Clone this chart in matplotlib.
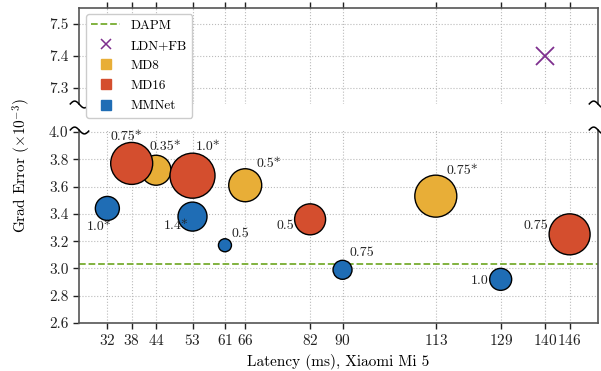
import numpy as np
import matplotlib
matplotlib.use("Agg")
import matplotlib.pyplot as plt
from matplotlib.lines import Line2D
from matplotlib.path import Path

plt.rcParams["font.family"] = "serif"
plt.rcParams["font.serif"] = ["cmr10"]
plt.rcParams["mathtext.fontset"] = "cm"
plt.rcParams["axes.unicode_minus"] = False
plt.rcParams["axes.formatter.use_mathtext"] = True

# data
x_ticks = [32, 38, 44, 53, 61, 66, 82, 90, 113, 129, 140, 146]

md8_lat = [44, 66, 113]
md8_err = [3.72, 3.61, 3.53]
md8_size = [466, 564, 914]
md8_lbl = ["0.35*", "0.5*", "0.75*"]

md16_lat = [38, 53, 82, 146]
md16_err = [3.77, 3.68, 3.36, 3.25]
md16_size = [914, 1050, 498, 871]
md16_lbl = ["0.75*", "1.0*", "0.5", "0.75"]

mm_lat = [32, 53, 61, 90, 129]
mm_err = [3.44, 3.38, 3.17, 2.99, 2.92]
mm_size = [299, 436, 88, 187, 251]
mm_lbl = ["1.0*", "1.4*", "0.5", "0.75", "1.0"]

ldn_lat = [140]
ldn_err = [7.40]
dapm_err = 3.03

c_md8 = "#e8ae37"
c_md16 = "#d44e2e"
c_mm = "#1f6db5"
c_ldn = "#7e2f8e"
c_dapm = "#77ac30"
spine_c = "#555555"

# label offsets in points (dx, dy)
md8_off = [(7, 17), (17, 15), (19, 18)]
md16_off = [(-4, 19), (11, 21), (-18, -5), (-24, 6)]
mm_off = [(-6, -13), (-12, -7), (11, 8), (14, 12), (-15, -1)]

fig = plt.figure(figsize=(6.01, 3.71), dpi=100)
ax_top = fig.add_axes([0.1314, 0.7197, 0.8636, 0.2587])
ax_bot = fig.add_axes([0.1314, 0.1294, 0.8636, 0.5202])

for ax in (ax_top, ax_bot):
    ax.set_xlim(25, 153)
    ax.set_xticks(x_ticks)
    ax.grid(True, linestyle=":", color="#bbbbbb", linewidth=0.8)
    ax.set_axisbelow(True)
    for s in ax.spines.values():
        s.set_color(spine_c)
        s.set_linewidth(1.2)
    ax.tick_params(colors="#222222", labelsize=11, length=4, width=1, direction="out")

ax_top.set_ylim(7.25, 7.55)
ax_top.set_yticks([7.3, 7.4, 7.5])
ax_top.spines["bottom"].set_visible(False)
ax_top.xaxis.tick_top()
ax_top.tick_params(axis="x", labeltop=False)

ax_bot.set_ylim(2.6, 4.015)
ax_bot.set_yticks([2.6, 2.8, 3.0, 3.2, 3.4, 3.6, 3.8, 4.0])
ax_bot.spines["top"].set_visible(False)
ax_bot.yaxis.set_major_formatter(matplotlib.ticker.FormatStrFormatter("%.1f"))
ax_top.yaxis.set_major_formatter(matplotlib.ticker.FormatStrFormatter("%.1f"))

ax_bot.axhline(dapm_err, color=c_dapm, linestyle="--", linewidth=1.3, zorder=2)
ax_top.plot(ldn_lat, ldn_err, "x", color=c_ldn, markersize=13, mew=1.3)

ax_bot.scatter(md8_lat, md8_err, s=md8_size, color=c_md8, edgecolor="black", linewidth=1, zorder=3)
ax_bot.scatter(md16_lat, md16_err, s=md16_size, color=c_md16, edgecolor="black", linewidth=1, zorder=4)
ax_bot.scatter(mm_lat, mm_err, s=mm_size, color=c_mm, edgecolor="black", linewidth=1, zorder=5)

for lat, err, lbl, off in zip(md8_lat + md16_lat + mm_lat, md8_err + md16_err + mm_err,
                              md8_lbl + md16_lbl + mm_lbl, md8_off + md16_off + mm_off):
    ax_bot.annotate(lbl, (lat, err), xytext=off, textcoords="offset points",
                    ha="center", va="center", fontsize=10, color="#222222", zorder=6)

# break marks
t = np.linspace(-1, 1, 30)
tilde = Path(np.column_stack([t, -0.35 * np.sin(np.pi * t)]))
for ax, yy in ((ax_top, 0), (ax_bot, 1)):
    ax.plot([0, 1], [yy, yy], transform=ax.transAxes, linestyle="none", marker=tilde,
            markersize=14, markerfacecolor="none", markeredgecolor="black",
            mew=1.1, clip_on=False, zorder=10)

ax_bot.set_xlabel("Latency (ms), Xiaomi Mi 5", fontsize=11)
fig.text(0.037, 1 - 165 / 371, r"Grad Error ($\times10^{-3}$)", rotation=90,
         ha="center", va="center", fontsize=11)

handles = [
    Line2D([], [], color=c_dapm, linestyle="--", linewidth=1.3),
    Line2D([], [], color=c_ldn, marker="x", linestyle="none", markersize=7, mew=1.1),
    Line2D([], [], color=c_md8, marker="s", linestyle="none", markersize=7),
    Line2D([], [], color=c_md16, marker="s", linestyle="none", markersize=7),
    Line2D([], [], color=c_mm, marker="s", linestyle="none", markersize=7),
]
leg = ax_top.legend(handles, ["DAPM", "LDN+FB", "MD8", "MD16", "MMNet"],
                    loc="upper left", bbox_to_anchor=(0.143, 0.962),
                    bbox_transform=fig.transFigure, borderaxespad=0,
                    fontsize=9.5, labelspacing=0.6, handlelength=2.2,
                    framealpha=1, edgecolor="#cccccc", fancybox=True)
leg.set_zorder(20)

fig.savefig("out.png", dpi=100)
